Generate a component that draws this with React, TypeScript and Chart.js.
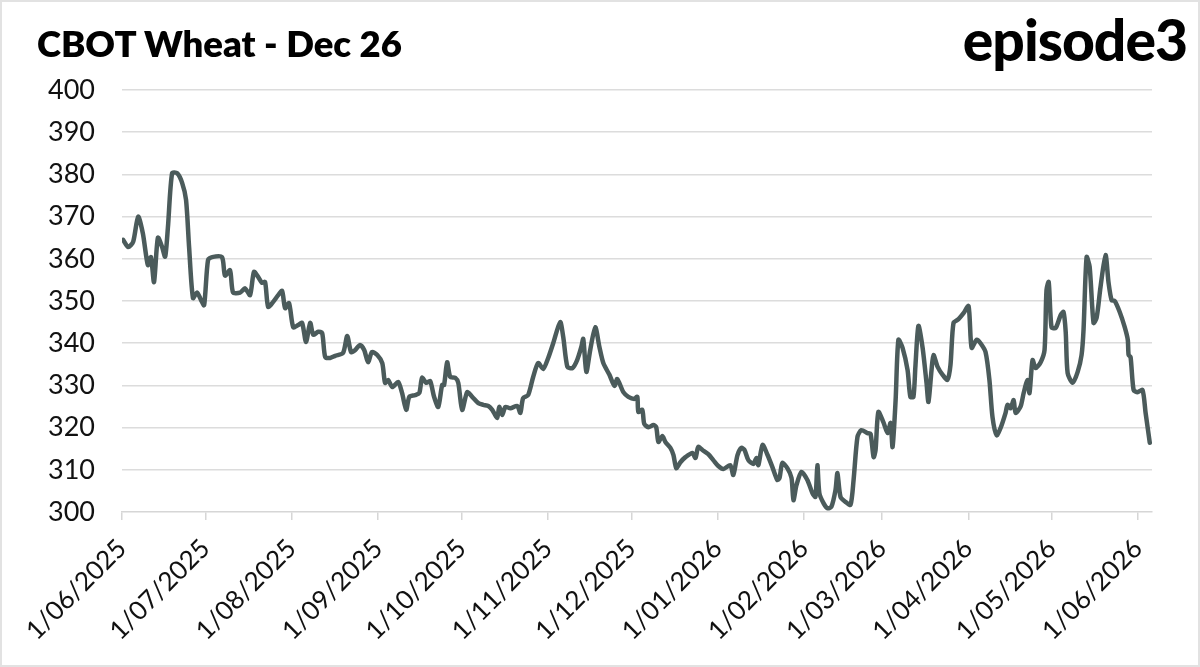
import React, { useEffect, useRef } from "react";
import { Chart, registerables } from "chart.js";

Chart.register(...registerables);

// Days since 1/06/2025
const dayOffsets = [
  0.4, 2.2, 4.0, 5.8, 7.5, 9.3, 10.4, 11.5, 12.9, 14.4, 15.5, 16.5, 18.0, 19.8, 21.6, 23.0, 24.1, 25.5, 27.0, 28.4,
  29.5, 30.9, 32.4, 35.9, 37.0, 38.8, 39.9, 42.4, 44.2, 46.0, 47.4, 48.9, 50.3, 51.4, 52.5, 54.3, 56.1, 57.5, 58.6, 60.0,
  61.5, 63.3, 64.7, 66.1, 67.6, 68.7, 70.5, 71.9, 73.0, 74.8, 76.6, 79.4, 80.9, 82.3, 83.8, 85.5, 87.0, 88.4, 89.8, 91.7,
  93.5, 94.5, 95.6, 97.1, 99.2, 100.6, 102.1, 103.2, 105.3, 106.8, 107.8, 109.3, 110.7, 112.1, 113.6, 115.0, 115.7, 116.8, 117.9, 119.7,
  120.8, 122.2, 124.0, 125.8, 128.0, 129.8, 131.6, 133.0, 134.8, 135.5, 136.6, 137.7, 139.5, 142.0, 143.1, 144.1, 145.9, 147.7, 149.5, 151.3,
  153.1, 154.9, 157.4, 158.5, 160.0, 161.8, 163.5, 165.0, 165.7, 166.8, 168.2, 170.0, 171.5, 172.9, 175.1, 176.9, 177.9, 180.1, 181.9, 184.0,
  185.1, 185.5, 186.9, 187.6, 189.1, 190.9, 191.9, 192.7, 194.1, 195.2, 197.0, 198.1, 199.1, 200.6, 202.4, 204.9, 206.0, 207.0, 208.5, 210.6,
  212.4, 214.2, 216.0, 218.5, 219.6, 221.1, 222.5, 223.6, 225.0, 226.8, 227.9, 228.6, 230.1, 231.9, 233.6, 235.4, 236.2, 237.2, 239.0, 240.5,
  241.2, 242.3, 244.1, 246.2, 248.0, 249.1, 249.8, 250.5, 252.0, 253.4, 254.8, 256.3, 257.0, 258.1, 259.9, 261.7, 262.8, 264.2, 265.6, 267.8,
  268.9, 270.0, 270.7, 271.7, 273.5, 275.0, 276.1, 276.8, 277.9, 278.9, 280.4, 282.2, 283.2, 284.3, 285.0, 286.1, 287.6, 289.0, 289.7, 290.8,
  291.5, 293.0, 294.8, 296.5, 297.6, 298.7, 300.5, 302.3, 304.1, 305.2, 307.0, 308.4, 310.2, 311.6, 312.7, 314.2, 315.6, 317.4, 318.1, 319.2,
  320.3, 321.0, 322.8, 323.9, 325.3, 326.0, 327.1, 328.2, 330.0, 331.4, 332.1, 332.9, 333.9, 335.4, 337.2, 338.2, 339.0, 339.7, 341.5, 343.3,
  344.7, 345.4, 346.5, 347.6, 349.0, 350.1, 351.5, 353.3, 354.4, 355.5, 356.6, 358.4, 360.2, 361.3, 361.6, 362.3, 363.4, 364.8, 366.6, 367.7,
  369.2,
];

const prices = [
  364.5, 362.8, 364, 370, 366, 358.5, 360.4, 354.5, 365, 362.8, 360.5, 367.5, 380.3, 380.3, 378, 374, 362.8, 350.7, 352, 350.2,
  349, 359.7, 360.4, 360.4, 356, 357.3, 352, 352, 353, 351.4, 356.9, 355.7, 354.3, 354.5, 348.6, 349.8, 351.4, 352.4, 348.3, 349.5,
  343.8, 344.3, 344.8, 340.3, 344.8, 342, 342.7, 342.4, 336.7, 336.5, 337, 337.7, 341.7, 337.9, 338.4, 339.6, 338.4, 335.5, 337.9, 337.2,
  335.3, 330.6, 331.3, 329.6, 330.8, 328.2, 324.2, 327.3, 327.7, 328.2, 331.8, 330.6, 331, 327.3, 324.9, 330.1, 330.1, 335.5, 332, 331.8,
  330.6, 324.2, 328.4, 327.3, 325.8, 325.4, 325.1, 324.2, 322.3, 324.9, 323, 324.9, 324.6, 325.1, 323.5, 327, 327.7, 332, 335.3, 333.9,
  336.5, 340, 345, 341.5, 334.4, 334.1, 336, 339.1, 341, 333.2, 338.4, 343.8, 339.1, 335.3, 332.5, 329.9, 331.5, 328.4, 327.3, 326.8,
  327.3, 323.7, 324.2, 320.9, 320.1, 320.6, 320.1, 316.6, 318, 316.6, 315.2, 313.5, 310.4, 311.8, 313, 314, 312.8, 315.4, 314.7, 313.7,
  312.3, 310.9, 310.2, 311.1, 308.8, 313.5, 315.2, 314.7, 312.3, 311.4, 312.8, 311.1, 315.9, 313.5, 310.7, 307.6, 308.1, 311.6, 310.4, 308.1,
  302.8, 306.4, 309.5, 307.6, 304.5, 303.6, 311.1, 304.5, 302.1, 300.9, 301.2, 305.2, 309.2, 303.6, 302.4, 301.7, 307.6, 317.8, 319.4, 318.7,
  318.5, 313, 314.7, 323.7, 321.3, 318.7, 321.1, 315.4, 326.5, 340.8, 338.9, 333.6, 327.3, 327.3, 334.4, 344.1, 338.9, 330.6, 326.1, 333.6,
  337.2, 334.4, 332.5, 331.3, 334.8, 344.8, 345.7, 347.1, 348.8, 338.9, 340.8, 340, 337.9, 331.3, 322.5, 318.2, 319.9, 323.5, 325.4, 324.6,
  326.5, 323.5, 325, 328.2, 331.3, 328.2, 336, 334.1, 335.5, 338.4, 352.6, 354.5, 343.8, 343.6, 346.7, 347.4, 342.7, 332.9, 330.6, 333.2,
  337.2, 343.1, 360.4, 358.1, 344.8, 346, 353.3, 360.9, 354.3, 350.2, 350, 347.4, 343.8, 340.8, 337.2, 336.7, 328.9, 328.4, 328.9, 323.5,
  316.4,
];

const monthTickDays = [0, 30, 61, 92, 122, 153, 183, 214, 245, 273, 304, 334, 365];
const monthTickLabels = [
  "1/06/2025", "1/07/2025", "1/08/2025", "1/09/2025", "1/10/2025", "1/11/2025", "1/12/2025",
  "1/01/2026", "1/02/2026", "1/03/2026", "1/04/2026", "1/05/2026", "1/06/2026",
];

const titleText = "CBOT Wheat - Dec 26";
const logoText = "episode3";

const FONT = "Lato, 'Noto Sans', sans-serif";

export default function App() {
  const canvasRef = useRef<HTMLCanvasElement | null>(null);

  useEffect(() => {
    document.body.style.margin = "0";
    const canvas = canvasRef.current;
    if (!canvas) return;
    const chart = new Chart(canvas, {
      type: "line",
      data: {
        datasets: [
          {
            label: titleText,
            data: dayOffsets.map((d, i) => ({ x: d, y: prices[i] })),
            borderColor: "#4b5b5b",
            borderWidth: 4.5,
            pointRadius: 0,
            tension: 0.25,
            fill: false,
            borderCapStyle: "round",
            borderJoinStyle: "round",
          },
        ],
      },
      options: {
        responsive: false,
        animation: false,
        layout: { padding: { left: 0, right: 48, top: 90, bottom: 0 } },
        plugins: {
          legend: { display: false },
          title: { display: false },
          tooltip: { enabled: false },
        },
        scales: {
          x: {
            type: "linear",
            min: 0,
            max: 370,
            afterBuildTicks: (scale: any) => {
              scale.ticks = monthTickDays.map((v) => ({ value: v }));
            },
            afterFit: (scale: any) => {
              scale.height = 155;
            },
            ticks: {
              autoSkip: false,
              minRotation: 45,
              maxRotation: 45,
              padding: 13,
              color: "#111",
              font: { family: FONT, size: 26 },
              callback: (value: any) => {
                const idx = monthTickDays.indexOf(Number(value));
                return idx >= 0 ? monthTickLabels[idx] : "";
              },
            },
            grid: {
              drawOnChartArea: false,
              drawTicks: true,
              tickLength: 8,
              color: "#d6d6d6",
              lineWidth: 1.5,
            },
            border: { display: true, color: "#d6d6d6", width: 1.5 },
          },
          y: {
            min: 300,
            max: 400,
            afterFit: (scale: any) => {
              scale.width = 122;
            },
            ticks: {
              stepSize: 10,
              padding: 27,
              color: "#111",
              font: { family: FONT, size: 27 },
            },
            grid: {
              drawTicks: false,
              color: (ctx: any) => (ctx.tick && ctx.tick.value === 300 ? "rgba(0,0,0,0)" : "#dcdcdc"),
              lineWidth: 1.5,
            },
            border: { display: false },
          },
        },
      },
    });
    return () => chart.destroy();
  }, []);

  return (
    <div style={{ position: "absolute", left: 0, top: 0, width: 1200, height: 667, background: "#fff", overflow: "hidden" }}>
      <canvas ref={canvasRef} width={1200} height={667} style={{ position: "absolute", left: 0, top: 0 }} />
      <div
        style={{
          position: "absolute",
          left: 37,
          top: 22,
          fontFamily: FONT,
          fontWeight: 800,
          fontSize: 36.5,
          lineHeight: 1.2,
          color: "#000",
          whiteSpace: "nowrap",
        }}
      >
        {titleText}
      </div>
      <div
        style={{
          position: "absolute",
          right: 13,
          top: 5,
          fontFamily: FONT,
          fontWeight: 900,
          fontSize: 57,
          lineHeight: 1.2,
          letterSpacing: -1,
          color: "#000",
          whiteSpace: "nowrap",
        }}
      >
        {logoText}
      </div>
      <div
        style={{
          position: "absolute",
          left: 0,
          top: 0,
          width: 1200,
          height: 667,
          boxSizing: "border-box",
          border: "2px solid #e2e2e2",
          pointerEvents: "none",
        }}
      />
    </div>
  );
}
